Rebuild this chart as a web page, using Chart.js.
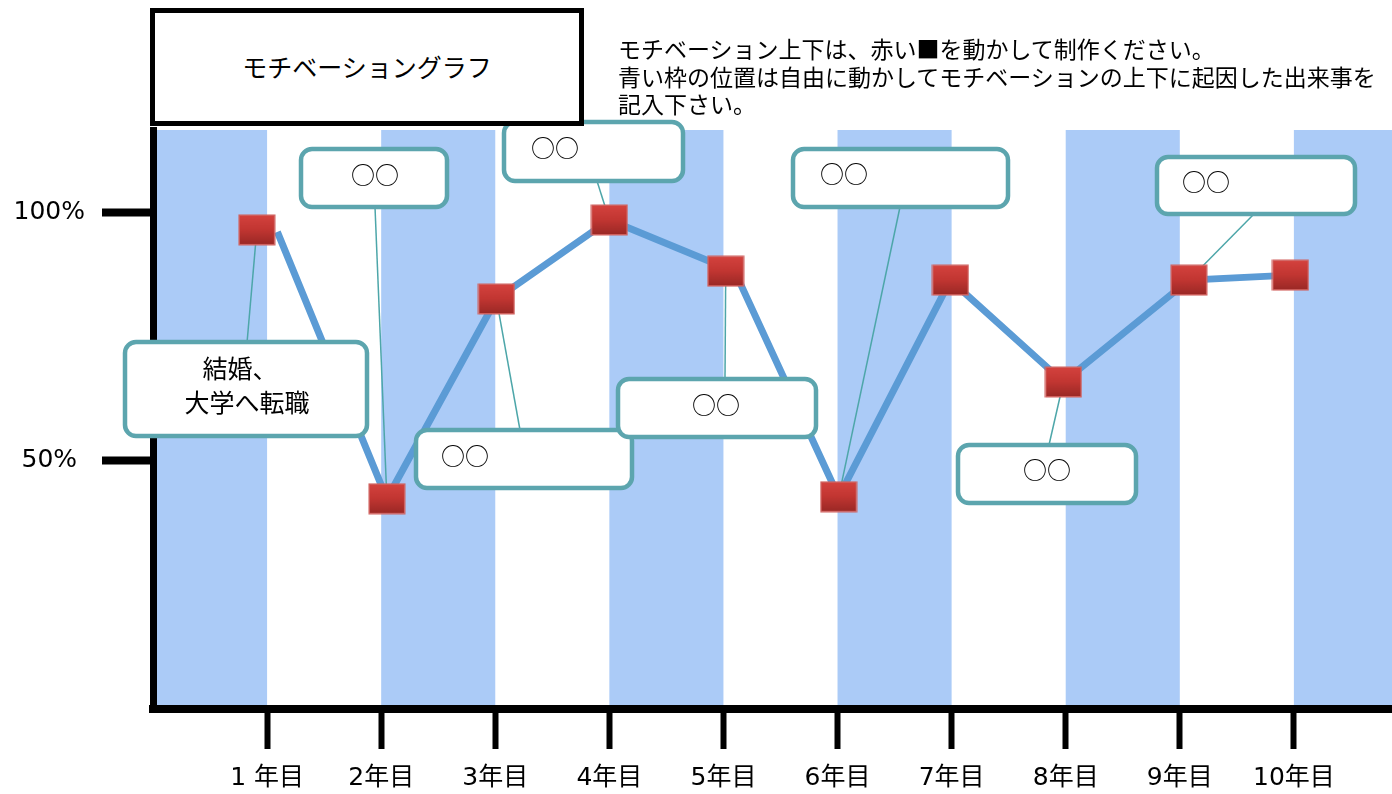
<!DOCTYPE html>
<html lang="ja">
<head>
<meta charset="utf-8">
<title>モチベーショングラフ</title>
<script src="https://cdn.jsdelivr.net/npm/chart.js@4/dist/chart.umd.min.js"></script>
<style>
  html, body { margin: 0; padding: 0; background: #fff; }
  body { font-family: "Noto Sans CJK JP", "DejaVu Sans", sans-serif; color: #000; }
  #wrap { position: relative; width: 1392px; height: 794px; overflow: hidden; }
  #title {
    position: absolute; left: 150px; top: 8px; width: 424px; height: 106px;
    border: 5px solid #000; background: #fff;
    display: flex; align-items: center; justify-content: center;
    font-size: 25px; padding-bottom: 2px; box-sizing: content-box;
  }
  #note {
    position: absolute; left: 618px; top: 35px;
    font-size: 23px; line-height: 27.5px; white-space: nowrap;
  }
</style>
</head>
<body>
<div id="wrap">
  <canvas id="chart" width="1392" height="794"></canvas>
  <div id="title">モチベーショングラフ</div>
  <div id="note">モチベーション上下は、赤い■を動かして制作ください。<br>青い枠の位置は自由に動かしてモチベーションの上下に起因した出来事を<br>記入下さい。</div>
</div>
<script>
// --- データ ---
const years = ["1 年目", "2年目", "3年目", "4年目", "5年目", "6年目", "7年目", "8年目", "9年目", "10年目"];
const yearPos = [1, 2, 3, 4, 5, 6, 7, 8, 9, 10];
const yTicks = [50, 100];

// 赤い■の位置
const markerX = [0.91, 2.05, 3.01, 4.0, 5.02, 6.01, 6.99, 7.98, 9.08, 9.97];
const markerY = [96.4, 42.3, 82.5, 98.4, 88.1, 42.7, 86.3, 65.8, 86.3, 87.3];

// 青い線の頂点
const lineX = [1.09, 2.05, 3.01, 4.0, 5.1, 6.01, 6.99, 7.98, 9.08, 9.97];
const lineY = [96.0, 42.3, 82.5, 98.4, 88.0, 42.7, 86.3, 65.8, 86.3, 87.3];

// 吹き出し（枠は画面上の位置、target は■の番号）
const callouts = [
    { box: [125, 342, 242, 94], from: [247, 343], target: 0, lines: ["結婚、", "大学へ転職"], tx: [240, 247], ty: [368, 402], size: 25 },
    { box: [301, 149, 146, 58], from: [375, 207], target: 1, lines: ["○○"], tx: [375], ty: [175], size: 24 },
    { box: [504, 122, 179, 59], from: [597, 181], target: 3, lines: ["○○"], tx: [555], ty: [148], size: 24 },
    { box: [416, 430, 216, 58], from: [520, 430], target: 2, lines: ["○○"], tx: [465], ty: [456], size: 24 },
    { box: [618, 379, 198, 58], from: [725, 379], target: 4, lines: ["○○"], tx: [716], ty: [405], size: 24 },
    { box: [793, 149, 215, 58], from: [900, 207], target: 5, lines: ["○○"], tx: [844], ty: [174], size: 24 },
    { box: [958, 445, 178, 58], from: [1049, 445], target: 7, lines: ["○○"], tx: [1047], ty: [470], size: 24 },
    { box: [1157, 157, 198, 57], from: [1254, 214], target: 8, lines: ["○○"], tx: [1206], ty: [182], size: 24 }
];

// 赤い■のマーカー画像
function makeMarker() {
    const c = document.createElement("canvas");
    c.width = 38;
    c.height = 32;
    const g = c.getContext("2d");
    const grad = g.createLinearGradient(0, 1, 0, 30);
    grad.addColorStop(0, "#d4423e");
    grad.addColorStop(0.5, "#c23632");
    grad.addColorStop(1, "#9c2926");
    g.fillStyle = grad;
    g.fillRect(1, 1, 36, 30);
    g.strokeStyle = "#d0615e";
    g.lineWidth = 1.5;
    g.strokeRect(1.25, 1.25, 35.5, 29.5);
    return c;
}

// 縦の青い帯
const bandsPlugin = {
    id: "bands",
    beforeDraw(chart) {
        const { ctx, chartArea, scales } = chart;
        const xs = scales.x;
        ctx.save();
        ctx.fillStyle = "#abcbf7";
        for (let i = 0; i <= 10; i += 2) {
            const x0 = xs.getPixelForValue(i);
            const x1 = Math.min(xs.getPixelForValue(i + 1), chartArea.right);
            ctx.fillRect(x0, chartArea.top, x1 - x0, chartArea.bottom - chartArea.top);
        }
        ctx.restore();
    }
};

function roundRect(ctx, x, y, w, h, r) {
    ctx.beginPath();
    ctx.moveTo(x + r, y);
    ctx.arcTo(x + w, y, x + w, y + h, r);
    ctx.arcTo(x + w, y + h, x, y + h, r);
    ctx.arcTo(x, y + h, x, y, r);
    ctx.arcTo(x, y, x + w, y, r);
    ctx.closePath();
}

// 吹き出しと引き出し線（青い線の上、■の下）
const calloutPlugin = {
    id: "callouts",
    afterDatasetDraw(chart, args) {
        if (args.index !== 0) return;
        const { ctx, scales } = chart;
        ctx.save();
        ctx.strokeStyle = "#4da6a9";
        ctx.lineWidth = 1.5;
        for (const c of callouts) {
            const px = scales.x.getPixelForValue(markerX[c.target]);
            const py = scales.y.getPixelForValue(markerY[c.target]);
            ctx.beginPath();
            ctx.moveTo(c.from[0], c.from[1]);
            ctx.lineTo(px, py);
            ctx.stroke();
        }
        for (const c of callouts) {
            const [x, y, w, h] = c.box;
            roundRect(ctx, x, y, w, h, 11);
            ctx.fillStyle = "#fff";
            ctx.fill();
            ctx.strokeStyle = "#5ca5ae";
            ctx.lineWidth = 4.5;
            ctx.stroke();
            ctx.fillStyle = "#000";
            ctx.font = c.size + 'px "Noto Sans CJK JP", "DejaVu Sans", sans-serif';
            ctx.textAlign = "center";
            ctx.textBaseline = "middle";
            c.lines.forEach((t, i) => ctx.fillText(t, c.tx[i], c.ty[i]));
        }
        ctx.restore();
    }
};

const axisFont = { family: '"DejaVu Sans", "Noto Sans CJK JP", sans-serif', size: 25 };

new Chart(document.getElementById("chart"), {
    type: "line",
    data: {
        datasets: [
            {
                label: "線",
                data: lineX.map((x, i) => ({ x, y: lineY[i] })),
                borderColor: "#5b9bd5",
                borderWidth: 7,
                pointRadius: 0,
                tension: 0,
                order: 2
            },
            {
                label: "モチベーション",
                data: markerX.map((x, i) => ({ x, y: markerY[i] })),
                showLine: false,
                pointStyle: makeMarker(),
                pointRadius: 18,
                order: 1
            }
        ]
    },
    options: {
        responsive: false,
        animation: false,
        events: [],
        layout: { autoPadding: false, padding: { top: 130, right: 0, left: 0, bottom: 0 } },
        plugins: {
            legend: { display: false },
            tooltip: { enabled: false }
        },
        scales: {
            x: {
                type: "linear",
                min: 0,
                max: 10.86,
                afterBuildTicks: s => { s.ticks = yearPos.map(v => ({ value: v })); },
                afterFit: s => { s.height = 85; s.paddingLeft = 0; s.paddingRight = 0; },
                grid: { drawOnChartArea: false, drawTicks: true, tickLength: 40, tickWidth: 6, tickColor: "#000" },
                border: { display: true, color: "#000", width: 8 },
                ticks: {
                    autoSkip: false,
                    maxRotation: 0,
                    padding: 14,
                    color: "#000",
                    font: axisFont,
                    callback: v => years[yearPos.indexOf(v)]
                }
            },
            y: {
                type: "linear",
                min: 0,
                max: 116.5,
                afterBuildTicks: s => { s.ticks = yTicks.map(v => ({ value: v })); },
                afterFit: s => { s.width = 153; s.paddingTop = 0; s.paddingBottom = 0; },
                grid: { drawOnChartArea: false, drawTicks: true, tickLength: 51, tickWidth: 8, tickColor: "#000" },
                border: { display: true, color: "#000", width: 7 },
                ticks: {
                    crossAlign: "center",
                    padding: 17,
                    color: "#000",
                    font: axisFont,
                    callback: v => v + "%"
                }
            }
        }
    },
    plugins: [bandsPlugin, calloutPlugin]
});
</script>
</body>
</html>
